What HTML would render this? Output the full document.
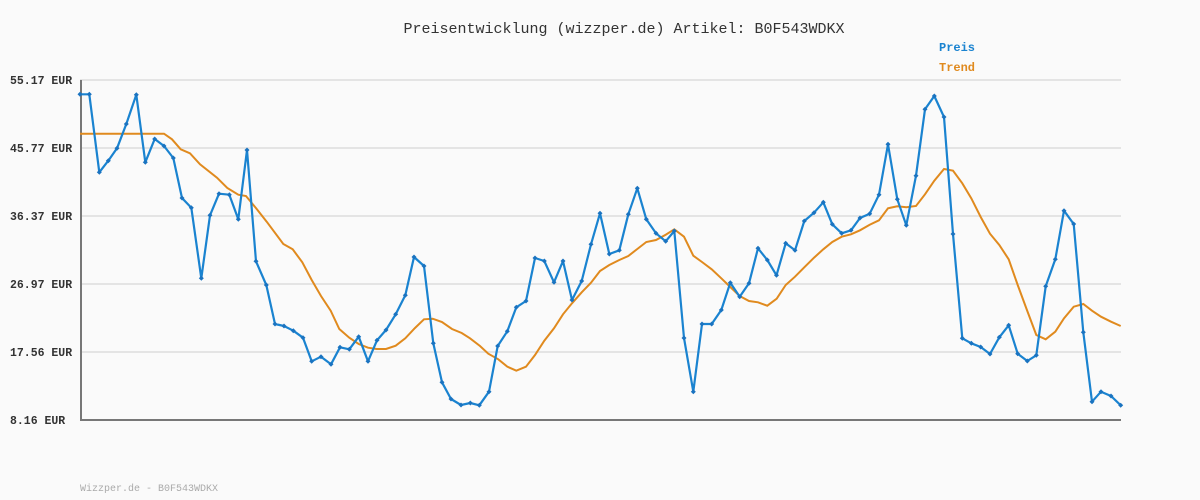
<!DOCTYPE html>
<html><head><meta charset="utf-8"><style>
html,body{margin:0;padding:0;background:#fafafa;}
svg{display:block;}
text{font-family:"Liberation Mono",monospace;}
</style></head><body>
<svg width="1200" height="500" viewBox="0 0 1200 500" xmlns="http://www.w3.org/2000/svg">
<rect width="1200" height="500" fill="#fafafa"/>
<text x="624" y="33" text-anchor="middle" font-size="15" fill="#333">Preisentwicklung (wizzper.de) Artikel: B0F543WDKX</text>
<text x="939" y="51" font-size="12" font-weight="bold" fill="#1a83d0">Preis</text>
<text x="939" y="71" font-size="12" font-weight="bold" fill="#e08a1e">Trend</text>
<g stroke="#e4e4e4" stroke-width="2">
<line x1="80" y1="80" x2="1121" y2="80"/><line x1="80" y1="148" x2="1121" y2="148"/>
<line x1="80" y1="216" x2="1121" y2="216"/><line x1="80" y1="284" x2="1121" y2="284"/>
<line x1="80" y1="352" x2="1121" y2="352"/>
</g>
<g font-size="11.5" font-weight="bold" fill="#333">
<text x="10" y="84">55.17 EUR</text><text x="10" y="152">45.77 EUR</text>
<text x="10" y="220">36.37 EUR</text><text x="10" y="288">26.97 EUR</text>
<text x="10" y="356">17.56 EUR</text><text x="10" y="424">8.16 EUR</text>
</g>
<line x1="81" y1="80" x2="81" y2="421" stroke="#777" stroke-width="2"/>
<line x1="80" y1="420" x2="1121" y2="420" stroke="#777" stroke-width="2"/>
<polyline fill="none" stroke="#e08a1e" stroke-width="2" points="80,133.7 164,133.7 172,139.3 180.7,149.3 190,153.3 200,164.3 217,177.7 227.3,188 238.3,194.7 246,196 256.7,209 266.7,221.7 283.3,244 292.7,249.3 302.3,262.3 311.7,280 321,296 330.7,310.7 339.3,329 349.3,337.7 358.7,344 368,347.7 376.7,349 386,349 395.7,345.7 405.3,338.3 415,328 424,319.3 432.7,318.7 442,322 452,329 461.7,333 470,338.3 480,346 488.3,353.7 498.3,359.3 507.3,366.7 516.3,370.7 526,366.7 535,355 544.3,340.7 554,328.3 563,314.3 572,303.3 581.7,292.3 591,282.7 600,271 609.3,265 619.3,260 628.3,256 637.3,249 646.3,242 656,240 665.7,234.7 674.3,229.3 684,236.7 693.3,255.7 702,262 711.7,269.3 721.3,278.3 730.3,287 739.7,296 749,301 758,302.3 767.3,305.7 776.7,298.7 785.7,285 795,276.7 804.3,267.3 814,257.7 823.3,249.3 832.3,242 841.7,236.7 851,234.3 860,230.3 869.7,224.7 879,220.3 888,208.3 897.3,206.3 906.3,207.3 916,206 925,194.3 934.3,180.7 944,169 953,170.7 962.3,183.3 971.3,198.3 980.7,217 990,233.7 999.3,245 1008.7,259.3 1017.7,285 1027.3,311 1036.3,335 1045.7,339.3 1055.3,331.7 1064,318.3 1073.7,306.7 1083.3,304 1092,310.7 1101,316.7 1111,321.7 1120.7,326"/>
<polyline id="p" fill="none" stroke="#1a83d0" stroke-width="2.2" stroke-linejoin="round" points="80,94.3 89.3,94.3 99.3,172.3 108.3,160.7 117,148.3 126.3,124 136.3,94.7 145.3,162.3 154.7,139 164,146 173.3,158 182,198 191.3,207.7 201.3,278.3 210,215.3 219,193.7 229.3,194.7 238.3,219.3 247,150 256,261.3 266.3,285 275,324 284,326 293.3,330.7 303,337.7 311.7,361.3 321,356.7 331,364.3 340,347.3 349.3,349.3 358.7,336.7 368,361.3 377,340.3 386,330 395.7,314.3 405.3,295.3 414,257 424,266 433.3,343.3 442,382.3 451,399 461,405 470.3,403 479.3,405.3 489,391.7 497.7,346 507.3,331.3 516.3,307.3 526,301 535,258 544.3,261 554,282.3 563,261 572,300 581.7,281 591,244.3 600,213.3 609.3,254 619.3,250.3 628.3,214.3 637.3,188.3 646.3,219.3 656,233.3 665.7,241.3 674.3,231 684,338 693.3,391.7 702,324 711.7,324 721.3,310 730.3,282.7 739.7,296.7 749,283.3 758,248.3 767.3,260 776.5,275.3 785.7,243.3 795,250.3 804.3,221 814,212.7 823.3,202.3 832.3,224.3 841.7,233.3 851,230.3 860,218 869.7,213.7 879,194.7 888,144.3 897.3,199.3 906.3,225.3 916,175.7 925,109.3 934.3,96 944,117 953,234 962.3,338.3 971.3,343.3 980.7,347 990,354 999.3,337.3 1008.7,325.3 1017.7,353.7 1027.3,361 1036.3,355.3 1045.7,286.3 1055.3,259.3 1064,210.7 1073.7,224 1083.3,332.3 1092,401.7 1101,391.7 1111,396 1120.7,405.3"/>
<text x="80" y="491" font-size="10" fill="#aaa">Wizzper.de - B0F543WDKX</text>
</svg>
<script>
(function(){var p=document.getElementById('p');var pts=p.getAttribute('points').trim().split(/\s+/);var s=p.parentNode;
pts.forEach(function(q){var c=q.split(',');var e=document.createElementNS('http://www.w3.org/2000/svg','path');
var x=+c[0],y=+c[1];e.setAttribute('d','M'+(x-2.5)+' '+y+'L'+x+' '+(y-2.5)+'L'+(x+2.5)+' '+y+'L'+x+' '+(y+2.5)+'Z');e.setAttribute('fill','#1a73c0');s.appendChild(e);});})();
</script>
</body></html>
